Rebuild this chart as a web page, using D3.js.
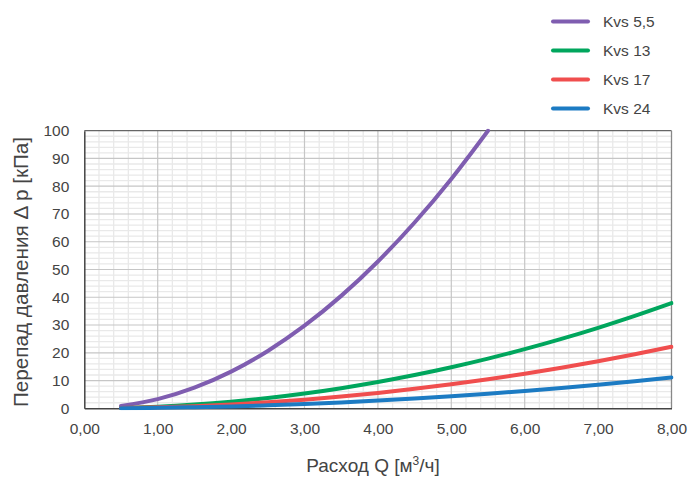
<!DOCTYPE html>
<html><head><meta charset="utf-8">
<script src="https://cdn.jsdelivr.net/npm/d3@7"></script>
<style>body{margin:0;background:#fff}svg{display:block}text{font-family:"Liberation Sans",Arial,sans-serif;fill:#444}</style>
</head><body><svg id="c" width="690" height="477"></svg>
<script>
const flowQ = [0.5,1,1.5,2,2.5,3,3.5,4,4.5,5,5.5,6,6.5,7,7.5,8];
const kvs55 = [0.83,3.31,7.44,13.22,20.66,29.75,40.50,52.89,66.94,82.64,100.0];
const kvs13 = [0.15,0.59,1.33,2.37,3.70,5.33,7.25,9.47,11.98,14.79,17.90,21.30,25.00,28.99,33.28,37.87];
const kvs17 = [0.09,0.35,0.78,1.38,2.16,3.11,4.24,5.54,7.01,8.65,10.47,12.46,14.62,16.96,19.46,22.15];
const kvs24 = [0.04,0.17,0.39,0.69,1.09,1.56,2.13,2.78,3.52,4.34,5.25,6.25,7.34,8.51,9.77,11.11];
const seriesNames = ["Kvs 5,5","Kvs 13","Kvs 17","Kvs 24"];
const seriesColors = ["#7f5db0","#00a65d","#f04e4e","#1c7bc3"];
const xTicks = [0,1,2,3,4,5,6,7,8];
const yTicks = [0,10,20,30,40,50,60,70,80,90,100];

const svg = d3.select("#c");
const L=84.3, R=671.5, T=130.7, B=408.3;
const x = d3.scaleLinear().domain([0,8]).range([L,R]);
const y = d3.scaleLinear().domain([0,100]).range([B,T]);

const g = svg.append("g");
// minor grid
const minorX = d3.range(0,8.001,0.2).filter(v=>Math.abs(v-Math.round(v))>1e-6);
const minorY = d3.range(0,100.001,2).filter(v=>v%10!==0);
g.selectAll(".mx").data(minorX).enter().append("line")
 .attr("x1",d=>x(d)).attr("x2",d=>x(d)).attr("y1",T).attr("y2",B)
 .attr("stroke","#e9e9e9").attr("stroke-width",1.3);
g.selectAll(".my").data(minorY).enter().append("line")
 .attr("x1",L).attr("x2",R).attr("y1",d=>y(d)).attr("y2",d=>y(d))
 .attr("stroke","#e9e9e9").attr("stroke-width",1.3);
// major grid
g.selectAll(".Mx").data(xTicks.slice(1,-1)).enter().append("line")
 .attr("x1",d=>x(d)).attr("x2",d=>x(d)).attr("y1",T).attr("y2",B)
 .attr("stroke","#c6c6c6").attr("stroke-width",1.2);
g.selectAll(".My").data(yTicks.slice(1,-1)).enter().append("line")
 .attr("x1",L).attr("x2",R).attr("y1",d=>y(d)).attr("y2",d=>y(d))
 .attr("stroke","#c6c6c6").attr("stroke-width",1.2);
// border
g.append("line").attr("x1",L).attr("x2",R).attr("y1",T).attr("y2",T).attr("stroke","#666").attr("stroke-width",1.3);
g.append("line").attr("x1",R).attr("x2",R).attr("y1",T).attr("y2",B).attr("stroke","#888").attr("stroke-width",1.3);

// axes
const xAxis = svg.append("g").attr("transform",`translate(0,${B})`)
 .call(d3.axisBottom(x).tickValues(xTicks).tickSize(0).tickPadding(15).tickFormat(d=>d3.format(".2f")(d).replace(".",",")));
const yAxis = svg.append("g").attr("transform",`translate(${L},0)`)
 .call(d3.axisLeft(y).tickValues(yTicks).tickSize(0).tickPadding(15));
[xAxis,yAxis].forEach(a=>{a.select(".domain").attr("stroke","#444").attr("stroke-width",1.5);
 a.selectAll("text").attr("font-size",15.5).attr("fill","#444").attr("font-family","Liberation Sans, Arial, sans-serif");});

// lines
const clip = svg.append("clipPath").attr("id","pc").append("rect").attr("x",L).attr("y",T-2).attr("width",R-L+2).attr("height",B-T+4);
const line = d3.line().x(d=>x(d[0])).y(d=>y(d[1])).curve(d3.curveMonotoneX);
const allSeries = [kvs55,kvs13,kvs17,kvs24];
allSeries.forEach((vals,i)=>{
  const pts = vals.map((v,j)=>[flowQ[j],v]);
  svg.append("path").datum(pts).attr("d",line).attr("fill","none")
   .attr("stroke",seriesColors[i]).attr("stroke-width",4).attr("stroke-linecap","round").attr("clip-path","url(#pc)");
});

// legend
const lg = svg.append("g");
seriesNames.forEach((n,i)=>{
  const yy = 21.5 + i*29;
  lg.append("line").attr("x1",553).attr("x2",588).attr("y1",yy).attr("y2",yy)
   .attr("stroke",seriesColors[i]).attr("stroke-width",4).attr("stroke-linecap","round");
  lg.append("text").attr("x",603).attr("y",yy+5.5).attr("font-size",15.5).text(n);
});

// titles
svg.append("text").attr("x",373).attr("y",472).attr("text-anchor","middle").attr("font-size",19)
 .html('Расход Q [м<tspan dy="-7" font-size="12">3</tspan><tspan dy="7">/ч]</tspan>');
svg.append("text").attr("transform",`translate(28,272) rotate(-90)`).attr("text-anchor","middle").attr("font-size",20.7)
 .text("Перепад давления Δ р [кПа]");
</script></body></html>
